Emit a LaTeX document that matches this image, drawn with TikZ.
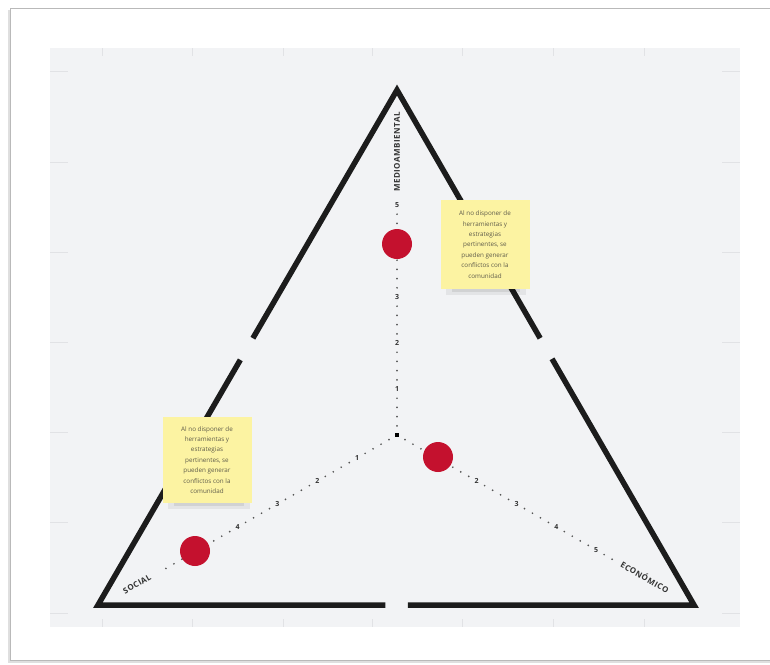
\documentclass[tikz,border=0pt]{standalone}
\usepackage{fontspec}
\setmainfont{Open Sans}
\newfontfamily\lblfont[LetterSpace=6]{Open Sans}
\usetikzlibrary{calc}
\definecolor{panel}{HTML}{F2F3F5}
\definecolor{tickc}{HTML}{E1E2E5}
\definecolor{notey}{HTML}{FCF3A2}
\definecolor{dotred}{HTML}{C4112E}
\definecolor{ink}{HTML}{1C1C1C}
\definecolor{notetext}{HTML}{5E5B4A}
\definecolor{axistext}{HTML}{333333}
\definecolor{dotc}{HTML}{555555}
\begin{document}
\begin{tikzpicture}[x=1pt,y=-1pt,
  side/.style={draw=ink, line width=5.5pt, line join=miter},
  marker/.style={circle, fill=dotred, minimum size=30pt, inner sep=0pt},
  sticky/.style={fill=notey, minimum width=89pt, minimum height=89pt, align=center,
     font=\fontsize{6.3}{10.4}\selectfont, text=notetext, inner sep=0pt},
  ticklbl/.style={font=\bfseries\fontsize{7}{7}\selectfont, text=axistext, fill=panel, inner sep=1.2pt},
  axisname/.style={font=\lblfont\bfseries\fontsize{8}{9}\selectfont, text=axistext, inner sep=0pt},
  axisdots/.style={draw=dotc, line width=1.9pt, line cap=round, dash pattern=on 0pt off 9.2pt},
  paneltick/.style={draw=tickc, line width=0.8pt}]
\useasboundingbox (0,0) rectangle (770,664);
% card
\fill[white] (0,0) rectangle (770,664);
\fill[gray!25] (8,10) rectangle (780,663);
\fill[white] (10,8) rectangle (780,660);
\draw[gray!55, line width=0.8pt] (780,8) -- (10,8) -- (10,660) -- (780,660);
% panel
\fill[panel] (50,48) rectangle (740,627);
\foreach \x in {102,192,283,372,462,553,644}{
  \draw[paneltick] (\x,48) -- (\x,56);
  \draw[paneltick] (\x,619) -- (\x,627);}
\foreach \y in {71,162,252,342,432,522,613}{
  \draw[paneltick] (50,\y) -- (68,\y);
  \draw[paneltick] (722,\y) -- (740,\y);}
% triangle
\coordinate (A) at (397,90);
\coordinate (BL) at (98,605);
\coordinate (BR) at (694,605);
\draw[side] ($(A)!0.482!(BL)$) -- (A) -- ($(A)!0.482!(BR)$);
\draw[side] ($(BL)!0.482!(BR)$) -- (BL) -- ($(BL)!0.476!(A)$);
\draw[side] ($(BL)!0.52!(BR)$) -- (BR) -- ($(BR)!0.478!(A)$);
% axes
\coordinate (C) at (397,435);
\coordinate (Vend) at (397,204.5);
\coordinate (Lend) at ($(C)+(-0.866*267.3,0.5*267.3)$);
\coordinate (Rend) at ($(C)+(0.866*248.9,0.5*248.9)$);
\draw[axisdots] (C) -- (Vend);
\draw[axisdots] (C) -- (Lend);
\draw[axisdots] (C) -- (Rend);
\node[fill=black, minimum size=4pt, inner sep=0pt] (ctr) at (C) {};
% tick labels
\foreach \k in {1,2,3,5}{
  \node[ticklbl] (v\k) at ($(C)+(0,-46*\k)$) {\k};}
\foreach \k in {1,2,3,4}{
  \node[ticklbl] (l\k) at ($(C)+(-0.866*46*\k,0.5*46*\k)$) {\k};}
\foreach \k in {2,3,4,5}{
  \node[ticklbl] (r\k) at ($(C)+(0.866*46*\k,0.5*46*\k)$) {\k};}
% axis names
\node[axisname, rotate=90] (med) at (397,152) {MEDIOAMBIENTAL};
\node[axisname, rotate=30] (soc) at (137,584) {SOCIAL};
\node[axisname, rotate=-30] (eco) at (645,577) {ECONÓMICO};
% markers
\node[marker] (mv) at (397,244) {};
\node[marker] (ml) at (195,551) {};
\node[marker] (mr) at (438,457) {};
% sticky notes with shadow
\fill[black, opacity=0.06] (446,284) rectangle (526,295);
\fill[black, opacity=0.08] (452,286) rectangle (520,292);
\fill[black, opacity=0.06] (168,498) rectangle (250,509);
\fill[black, opacity=0.08] (174,500) rectangle (244,506);
\node[sticky] (n1) at (485,244.5) {Al no disponer de\\herramientas y\\estrategias\\pertinentes, se\\pueden generar\\conflictos con la\\comunidad};
\node[sticky, minimum height=86pt] (n2) at (207,460) {Al no disponer de\\herramientas y\\estrategias\\pertinentes, se\\pueden generar\\conflictos con la\\comunidad};
\end{tikzpicture}
\end{document}
